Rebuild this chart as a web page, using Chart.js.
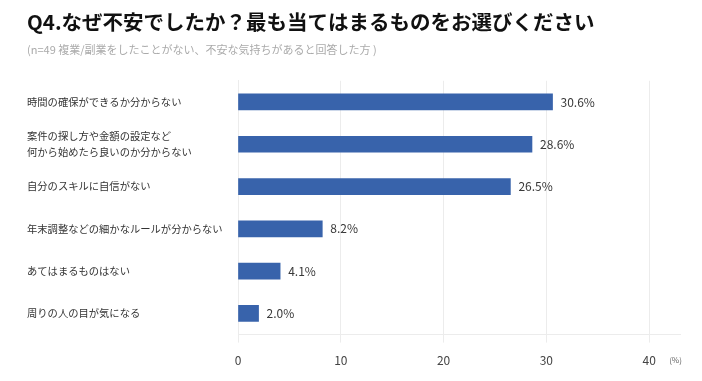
<!DOCTYPE html>
<html lang="ja">
<head>
    <meta charset="UTF-8">
    <title>Q4 グラフ</title>
    <script src="https://cdn.jsdelivr.net/npm/chart.js"></script>
    <style>
        html, body { margin: 0; padding: 0; background: #fff; }
        #wrap { width: 702px; height: 381px; }
    </style>
</head>
<body>
    <div id="wrap"><canvas id="q4Chart"></canvas></div>

    <script>
// データ
const categories = [
    '時間の確保ができるか分からない',
    ['案件の探し方や金額の設定など', '何から始めたら良いのか分からない'],
    '自分のスキルに自信がない',
    '年末調整などの細かなルールが分からない',
    'あてはまるものはない',
    '周りの人の目が気になる'
];
const percentValues = [30.6, 28.6, 26.5, 8.2, 4.1, 2.0];
const xTicks = [0, 10, 20, 30, 40];

const fontJP = '"Noto Sans CJK JP", "Noto Sans", sans-serif';

// バーの右側に値を表示する
const valueLabels = {
    id: 'valueLabels',
    afterDatasetsDraw(chart) {
        const ctx = chart.ctx;
        const meta = chart.getDatasetMeta(0);
        ctx.save();
        ctx.font = '12px ' + fontJP;
        ctx.fillStyle = '#383838';
        ctx.textBaseline = 'middle';
        meta.data.forEach((bar, i) => {
            ctx.fillText(percentValues[i].toFixed(1) + '%', bar.x + 8, bar.y);
        });
        // 単位 (%)
        const xs = chart.scales.x;
        ctx.font = '8px ' + fontJP;
        ctx.fillStyle = '#666';
        ctx.fillText('(%)', xs.getPixelForValue(xTicks[xTicks.length - 1]) + 20, xs.top + 25);
        ctx.restore();
    }
};

const ctx = document.getElementById('q4Chart').getContext('2d');
const q4Chart = new Chart(ctx, {
    type: 'bar',
    data: {
        labels: categories,
        datasets: [{
            data: percentValues,
            backgroundColor: '#3863ab',
            barThickness: 16
        }]
    },
    options: {
        indexAxis: 'y',
        responsive: true,
        maintainAspectRatio: false,
        animation: false,
        layout: { padding: { left: 27, right: 22, top: 4, bottom: 2 } },
        plugins: {
            legend: { display: false },
            tooltip: { enabled: false },
            title: {
                display: true,
                align: 'start',
                text: 'Q4.なぜ不安でしたか？最も当てはまるものをお選びください',
                color: '#111',
                font: { family: fontJP, size: 20.5, weight: 'bold' },
                padding: { top: 6, bottom: 8 }
            },
            subtitle: {
                display: true,
                align: 'start',
                text: '(n=49 複業/副業をしたことがない、不安な気持ちがあると回答した方 )',
                color: '#aaa',
                font: { family: fontJP, size: 11 },
                padding: { top: 1, bottom: 24 }
            }
        },
        scales: {
            x: {
                min: 0,
                max: 43,
                ticks: {
                    stepSize: 10,
                    includeBounds: false,
                    color: '#444',
                    padding: 11,
                    font: { family: fontJP, size: 12 }
                },
                grid: { color: '#ececec', tickLength: 8, tickColor: '#ececec' },
                border: { color: '#ececec' }
            },
            y: {
                afterFit(scale) { scale.width = 211; },
                ticks: {
                    crossAlign: 'far',
                    color: '#333',
                    font: { family: fontJP, size: 10.3, lineHeight: 1.6 }
                },
                grid: { display: false },
                border: { color: '#ececec' }
            }
        }
    },
    plugins: [valueLabels]
});
    </script>
</body>
</html>
